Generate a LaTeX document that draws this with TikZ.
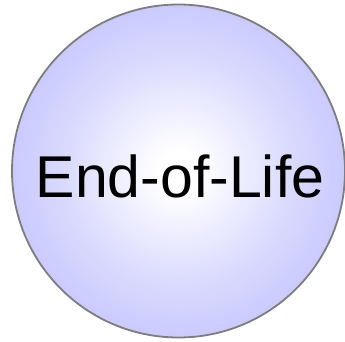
\documentclass[tikz,border=0pt]{standalone}
\usepackage{fontspec}
\setmainfont{Liberation Sans}
\definecolor{edgeblue}{RGB}{202,202,254}
\definecolor{ringgray}{RGB}{125,125,125}
\pgfdeclareradialshading{glow}{\pgfpoint{0bp}{0bp}}{color(0bp)=(white); color(3bp)=(white); color(17bp)=(edgeblue!70!white); color(25bp)=(edgeblue); color(50bp)=(edgeblue)}
\tikzset{state/.style={circle, draw=ringgray, line width=1.8pt, shading=glow, minimum size=333pt, inner sep=0pt}}
\begin{document}
\begin{tikzpicture}[x=1pt,y=1pt]
\useasboundingbox (0,0) rectangle (345,341);
\node[state] (eol) at (178.5,170) {};
\draw[edgeblue!80!gray!60, line width=0.6pt, dash pattern=on 10pt off 12pt, opacity=0.3] (eol.center) circle (150);
\node[font=\fontsize{59}{63}\selectfont, anchor=base] (lbl) at (180,144) {End-of-Life};
\end{tikzpicture}
\end{document}
